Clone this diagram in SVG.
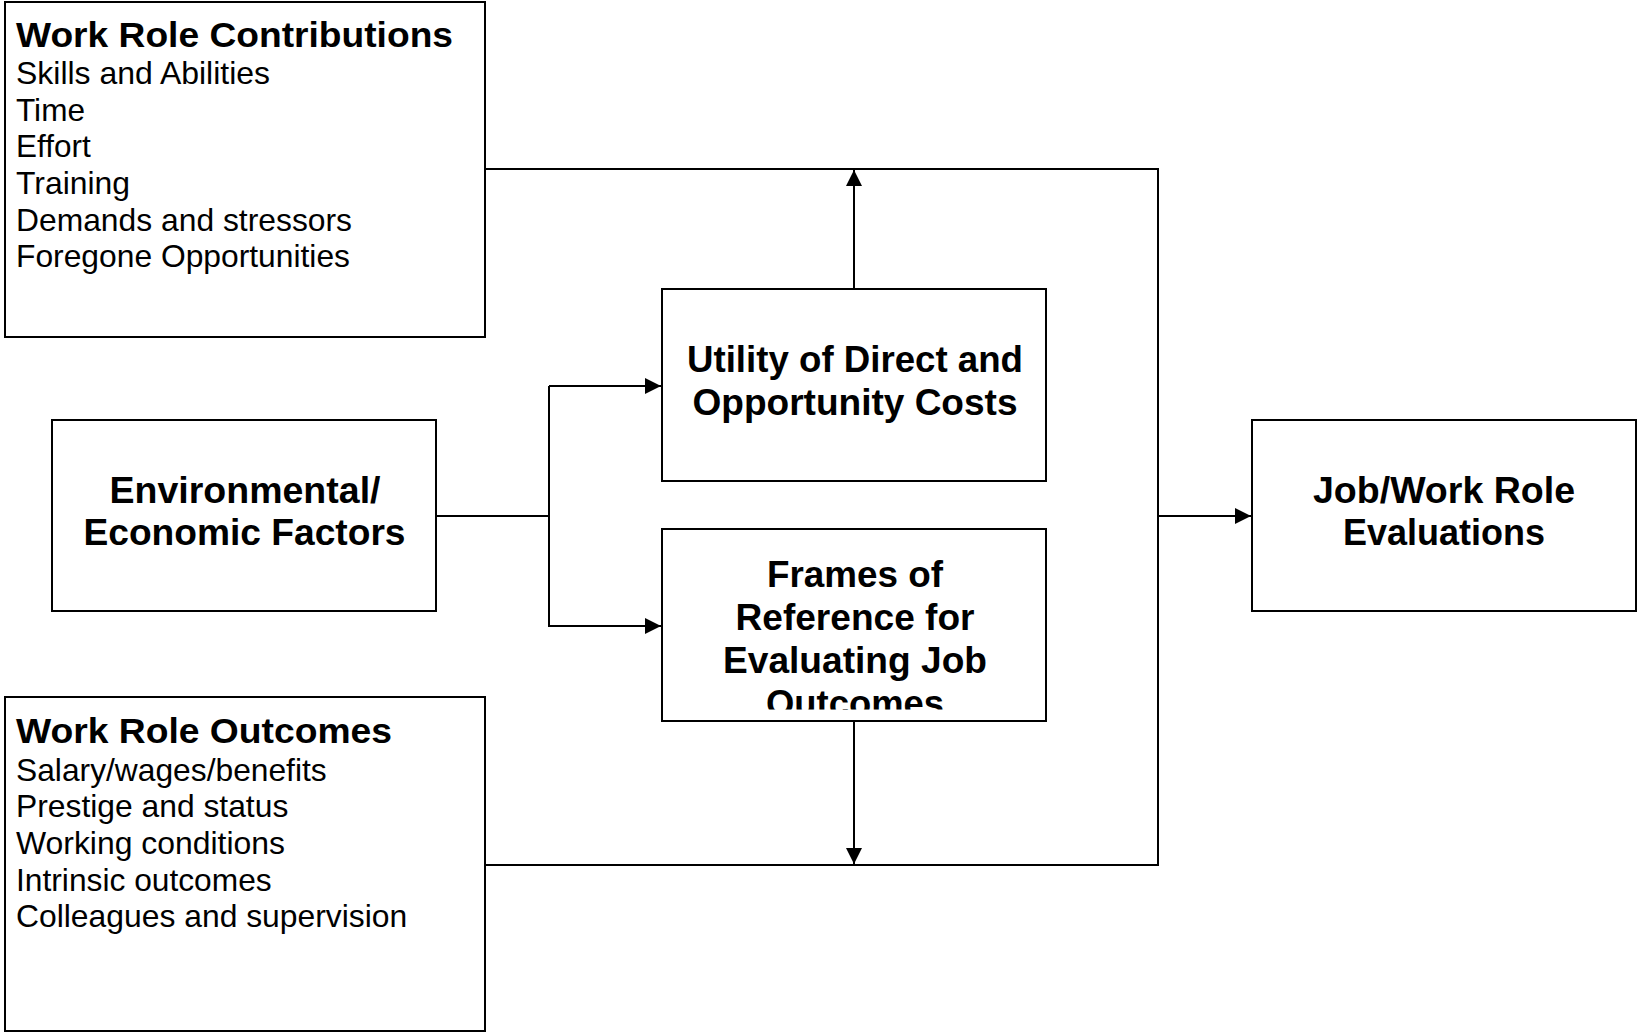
<svg xmlns="http://www.w3.org/2000/svg" width="1637" height="1033" viewBox="0 0 1637 1033">
  <style>
    .box { fill: #ffffff; stroke: #000000; stroke-width: 2; }
    .conn { fill: none; stroke: #000000; stroke-width: 2; }
    .h { font-family: "Liberation Sans", Arial, sans-serif; font-weight: bold; font-size: 35px; fill: #000; }
    .li { font-family: "Liberation Sans", Arial, sans-serif; font-size: 30.5px; fill: #000; }
    .c { font-family: "Liberation Sans", Arial, sans-serif; font-weight: bold; font-size: 36.5px; fill: #000; text-anchor: middle; }
  </style>
  <defs>
    <marker id="arr" markerUnits="userSpaceOnUse" markerWidth="17" markerHeight="17" refX="16" refY="8" orient="auto">
      <path d="M0,0 L16,8 L0,16 z" fill="#000"/>
    </marker>
    <clipPath id="clipFrames">
      <rect x="662" y="529" width="384" height="180.5"/>
    </clipPath>
  </defs>
  <rect x="0" y="0" width="1637" height="1033" fill="#ffffff"/>

  <g id="connectors">
    <polyline class="conn" points="485,169 1158,169 1158,865 485,865"/>
    <line class="conn" x1="854" y1="289" x2="854" y2="170" marker-end="url(#arr)"/>
    <line class="conn" x1="854" y1="721" x2="854" y2="864" marker-end="url(#arr)"/>
    <line class="conn" x1="436" y1="516" x2="549" y2="516"/>
    <polyline class="conn" points="549,386 549,626 661,626" marker-end="url(#arr)"/>
    <line class="conn" x1="549" y1="386" x2="661" y2="386" marker-end="url(#arr)"/>
    <line class="conn" x1="1158" y1="516" x2="1251" y2="516" marker-end="url(#arr)"/>
  </g>

  <g id="work-role-contributions">
    <rect class="box" x="5" y="2" width="480" height="335"/>
    <text class="h" x="16" y="47" textLength="437" lengthAdjust="spacingAndGlyphs">Work Role Contributions</text>
    <text class="li" x="16" y="84" textLength="254" lengthAdjust="spacingAndGlyphs">Skills and Abilities</text>
    <text class="li" x="16" y="120.7" textLength="69" lengthAdjust="spacingAndGlyphs">Time</text>
    <text class="li" x="16" y="157.4" textLength="74.7" lengthAdjust="spacingAndGlyphs">Effort</text>
    <text class="li" x="16" y="194" textLength="114" lengthAdjust="spacingAndGlyphs">Training</text>
    <text class="li" x="16" y="230.7" textLength="336" lengthAdjust="spacingAndGlyphs">Demands and stressors</text>
    <text class="li" x="16" y="267.4" textLength="334" lengthAdjust="spacingAndGlyphs">Foregone Opportunities</text>
  </g>

  <g id="environmental-economic-factors">
    <rect class="box" x="52" y="420" width="384" height="191"/>
    <text class="c" x="245" y="503" textLength="271" lengthAdjust="spacingAndGlyphs">Environmental/</text>
    <text class="c" x="244.5" y="545" textLength="322" lengthAdjust="spacingAndGlyphs">Economic Factors</text>
  </g>

  <g id="utility-costs">
    <rect class="box" x="662" y="289" width="384" height="192"/>
    <text class="c" x="855" y="372" textLength="336" lengthAdjust="spacingAndGlyphs">Utility of Direct and</text>
    <text class="c" x="855" y="415" textLength="325" lengthAdjust="spacingAndGlyphs">Opportunity Costs</text>
  </g>

  <g id="frames-of-reference">
    <rect class="box" x="662" y="529" width="384" height="192"/>
    <g clip-path="url(#clipFrames)">
      <text class="c" x="855" y="587" textLength="176" lengthAdjust="spacingAndGlyphs">Frames of</text>
      <text class="c" x="855" y="630" textLength="239" lengthAdjust="spacingAndGlyphs">Reference for</text>
      <text class="c" x="855" y="673" textLength="264" lengthAdjust="spacingAndGlyphs">Evaluating Job</text>
      <text class="c" x="855" y="716" textLength="178" lengthAdjust="spacingAndGlyphs">Outcomes</text>
    </g>
  </g>

  <g id="job-work-role-evaluations">
    <rect class="box" x="1252" y="420" width="384" height="191"/>
    <text class="c" x="1444" y="503" textLength="262" lengthAdjust="spacingAndGlyphs">Job/Work Role</text>
    <text class="c" x="1444" y="545" textLength="202" lengthAdjust="spacingAndGlyphs">Evaluations</text>
  </g>

  <g id="work-role-outcomes">
    <rect class="box" x="5" y="697" width="480" height="334"/>
    <text class="h" x="16" y="743" textLength="376" lengthAdjust="spacingAndGlyphs">Work Role Outcomes</text>
    <text class="li" x="16" y="780.7" textLength="310.7" lengthAdjust="spacingAndGlyphs">Salary/wages/benefits</text>
    <text class="li" x="16" y="817.3" textLength="272.3" lengthAdjust="spacingAndGlyphs">Prestige and status</text>
    <text class="li" x="16" y="854" textLength="269" lengthAdjust="spacingAndGlyphs">Working conditions</text>
    <text class="li" x="16" y="890.7" textLength="255.7" lengthAdjust="spacingAndGlyphs">Intrinsic outcomes</text>
    <text class="li" x="16" y="927.3" textLength="391.3" lengthAdjust="spacingAndGlyphs">Colleagues and supervision</text>
  </g>
</svg>
